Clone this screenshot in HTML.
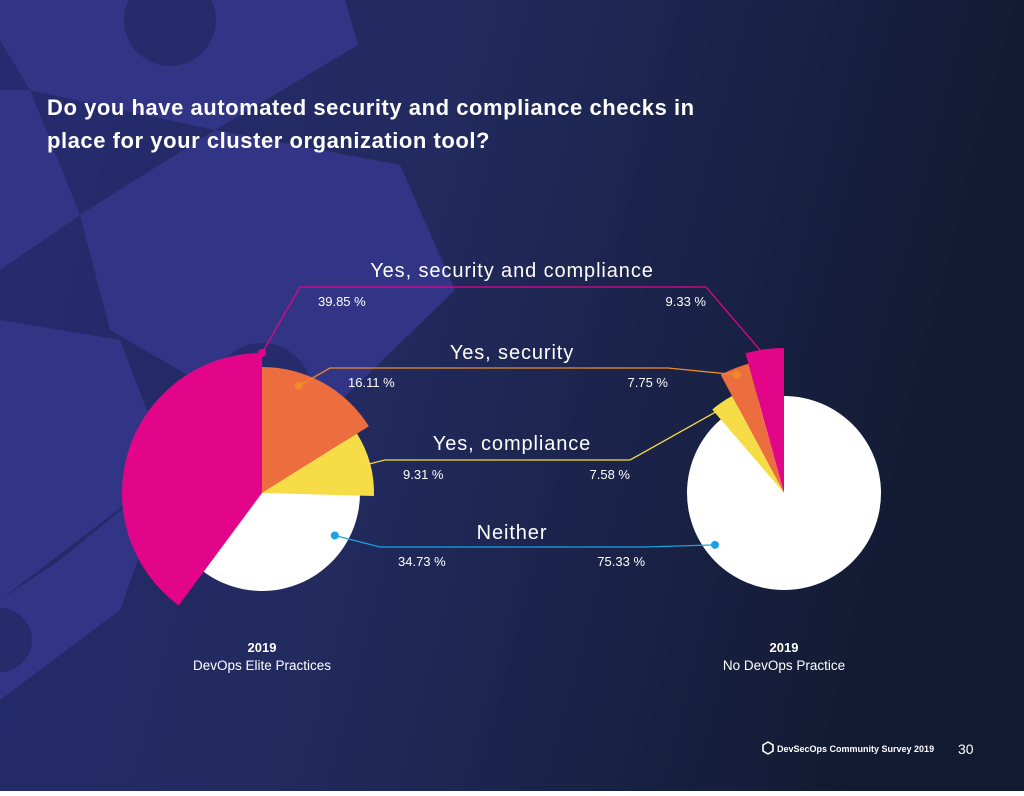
<!DOCTYPE html>
<html><head><meta charset="utf-8"><style>
html,body{margin:0;padding:0}
body{width:1024px;height:791px;overflow:hidden;font-family:"Liberation Sans",sans-serif}
svg text{font-family:"Liberation Sans",sans-serif}
</style></head><body>
<svg id="c" width="1024" height="791" viewBox="0 0 1024 791">
<defs>
<linearGradient id="bg" x1="0" y1="0" x2="1" y2="0.2">
<stop offset="0" stop-color="#262b70"/><stop offset="0.45" stop-color="#222a5e"/><stop offset="1" stop-color="#121a31"/>
</linearGradient>
</defs>
<rect width="1024" height="791" fill="url(#bg)"/>
<g fill="#323585">
<polygon points="0,0 345,0 358,45 215,130 30,90 0,40"/>
<polygon points="80,215 215,130 400,165 455,290 300,440 110,330"/>
<polygon points="0,90 30,90 80,215 0,270"/>
<polygon points="0,320 120,340 170,470 0,600"/>
<polygon points="0,600 60,560 170,470 120,610 0,700"/>
</g>
<circle cx="170" cy="20" r="46" fill="#262b6c"/>
<circle cx="262" cy="393" r="50" fill="#262b6c"/>
<circle cx="0" cy="640" r="32" fill="#262b6c"/>
<text x="47" y="115" fill="#fff" font-size="22" font-weight="bold" letter-spacing="0.55">Do you have automated security and compliance checks in</text>
<text x="47" y="148" fill="#fff" font-size="22" font-weight="bold" letter-spacing="0.55">place for your cluster organization tool?</text>
<g id="pies"></g>
<g>
<polygon points="763,745 768,742 773,745 773,751 768,754 763,751" fill="none" stroke="#fff" stroke-width="1.6"/>
<text x="777" y="752" fill="#fff" font-size="9" font-weight="bold">DevSecOps Community Survey 2019</text>
<text x="958" y="754" fill="#fff" font-size="14">30</text>
</g>
</svg>
<script>
const categories = ["Yes, security and compliance","Yes, security","Yes, compliance","Neither"];
const eliteValues = [39.85,16.11,9.31,34.73];
const noDevOpsValues = [9.33,7.75,7.58,75.33];
const groupYears = ["2019","2019"];
const groupNames = ["DevOps Elite Practices","No DevOps Practice"];

const NS="http://www.w3.org/2000/svg";
const g=document.getElementById('pies');
const colors=["#e2058a","#ec6e3f","#f6dd48","#ffffff"];
const lineColors=["#e2058a","#ef8a2a","#f6dd48","#1aa3e0"];
function mk(t,a,p){const e=document.createElementNS(NS,t);for(const k in a)e.setAttribute(k,a[k]);(p||g).appendChild(e);return e;}
function pt(cx,cy,r,deg){const a=(deg-90)*Math.PI/180;return [cx+r*Math.cos(a),cy+r*Math.sin(a)];}
function wedge(cx,cy,r,a0,a1){const p0=pt(cx,cy,r,a0),p1=pt(cx,cy,r,a1);const large=Math.abs(a1-a0)>180?1:0;const sw=a1>a0?1:0;return `M${cx},${cy}L${p0[0]},${p0[1]}A${r},${r} 0 ${large} ${sw} ${p1[0]},${p1[1]}Z`;}
const radiiL=[140,126,112,98], radiiR=[145,134,110,97];
function drawLeft(cx,cy,vals,radii,scale,name){
  const dots=[];
  mk('circle',{cx:cx,cy:cy,r:radii[3],fill:colors[3],});
  const a1p=-vals[0]*scale;
  mk('path',{d:wedge(cx,cy,radii[0],0,a1p),fill:colors[0],});
  dots.push(pt(cx,cy,radii[0],0));
  let a=0;
  for(let i=1;i<3;i++){
    const b=a+vals[i]*scale;
    mk('path',{d:wedge(cx,cy,radii[i],a,b),fill:colors[i],});
    dots.push(pt(cx,cy,radii[i]*0.9,(a+b)/2+(i===1?-10:0)));
    a=b;
  }
  const span=360-(a-a1p);
  dots.push(pt(cx,cy,radii[3]*0.86,a+span*0.23));
  return dots;
}
function drawRight(cx,cy,vals,radii,scale,name){
  const dots=[];
  mk('circle',{cx:cx,cy:cy,r:radii[3],fill:colors[3],});
  let a=0;
  for(let i=0;i<3;i++){
    const b=a-vals[i]*scale;
    mk('path',{d:wedge(cx,cy,radii[i],a,b),fill:colors[i],});
    dots.push(pt(cx,cy,radii[i]*0.95,(a+b)/2));
    a=b;
  }
  const span=360+a;
  dots.push(pt(cx,cy,radii[3]*0.89,a-span*0.27));
  return dots;
}
const dL=drawLeft(262,493,eliteValues,radiiL,3.6,'elite-pie');
const dR=drawRight(784,493,noDevOpsValues,radiiR,1.65,'nodevops-pie');
const rowY=[287,368,460,547];
const titleY=[277,359,450,539];
const bendL=[300,330,385,380], bendR=[706,668,630,645];
for(let i=0;i<4;i++){
  const y=rowY[i], L=dL[i], R=dR[i];
  const xl=bendL[i], xr=bendR[i];
  const ln=mk('polyline',{points:`${L[0]},${L[1]} ${xl},${y} ${xr},${y} ${R[0]},${R[1]}`,fill:'none',stroke:lineColors[i],'stroke-width':1.3});
  
  
  [L,R].forEach(d=>{const c=mk('circle',{cx:d[0],cy:d[1],r:4,fill:lineColors[i]});
    
    });
  const t=mk('text',{x:512,y:titleY[i],fill:'#fff','font-size':20,'letter-spacing':0.9,'text-anchor':'middle'});
  t.textContent=categories[i];
  
  
  const tl=mk('text',{x:xl+18,y:y+19,fill:'#fff','font-size':13,'text-anchor':'start'});
  tl.textContent=eliteValues[i].toFixed(2)+' %';
  
  
  const tr=mk('text',{x:xr,y:y+19,fill:'#fff','font-size':13,'text-anchor':'end'});
  tr.textContent=noDevOpsValues[i].toFixed(2)+' %';
  
  
}
[[262,0],[784,1]].forEach(([x,k])=>{
  const y1=mk('text',{x:x,y:652,fill:'#fff','font-size':13,'font-weight':'bold','text-anchor':'middle'});
  y1.textContent=groupYears[k];
  
  
  const n=mk('text',{x:x,y:670,fill:'#fff','font-size':13.5,'text-anchor':'middle'});
  n.textContent=groupNames[k];
  
  
});
</script>
</body></html>
